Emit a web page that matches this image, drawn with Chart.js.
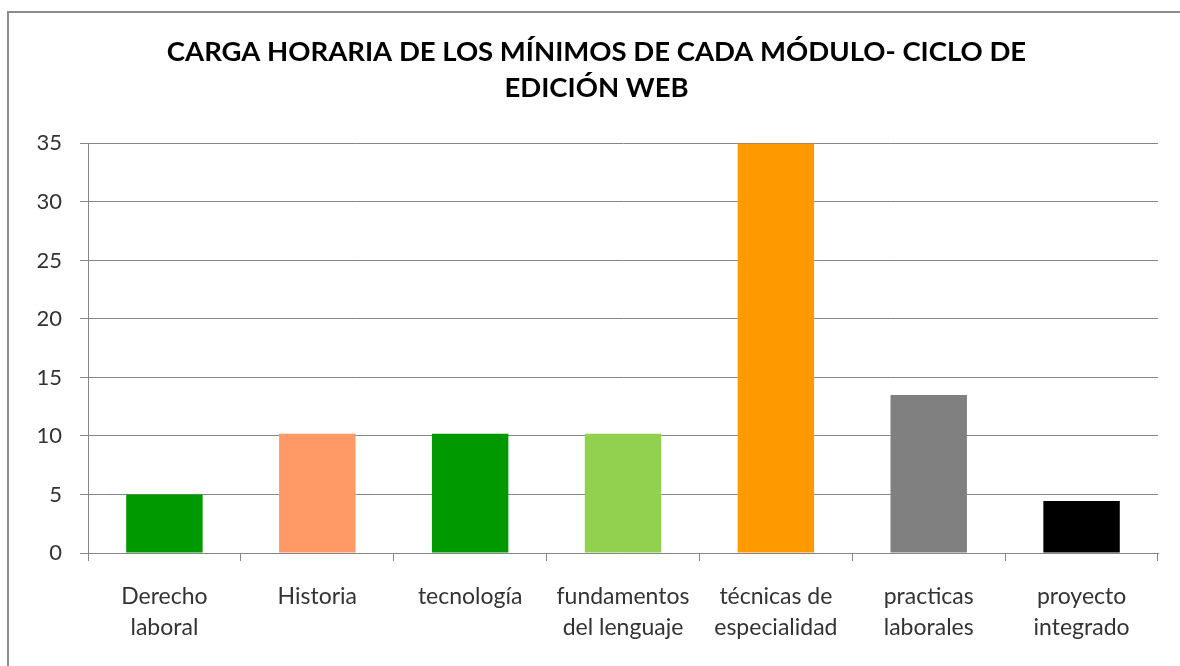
<!DOCTYPE html>
<html>
<head>
<meta charset="utf-8">
<script src="https://cdn.jsdelivr.net/npm/chart.js@4/dist/chart.umd.min.js"></script>
<style>
  html, body { margin: 0; padding: 0; background: #fff; }
  #wrap { width: 1180px; height: 666px; }
</style>
</head>
<body>
<div id="wrap"><canvas id="cargaChart"></canvas></div>
<script>
// Chart data
const modulos = [
  ['Derecho', 'laboral'],
  'Historia',
  'tecnología',
  ['fundamentos', 'del lenguaje'],
  ['técnicas de', 'especialidad'],
  ['practicas', 'laborales'],
  ['proyecto', 'integrado']
];
const horas = [5, 10.2, 10.2, 10.2, 35, 13.5, 4.45];
const colores = ['#009900', '#FF9966', '#009900', '#92D050', '#FF9900', '#808080', '#000000'];
const tituloLineas = ['CARGA HORARIA DE LOS MÍNIMOS DE CADA MÓDULO- CICLO DE', 'EDICIÓN WEB'];

const FONT = 'Lato, "Open Sans", sans-serif';

// Frame drawn round the whole chart, like the spreadsheet chart border
const framePlugin = {
  id: 'frame',
  beforeDraw(chart) {
    const c = chart.ctx;
    c.save();
    c.fillStyle = '#fff';
    c.fillRect(0, 0, chart.width, chart.height);
    c.strokeStyle = '#8c8c8c';
    c.lineWidth = 2;
    c.strokeRect(8, 12, chart.width + 10, chart.height + 10);
    c.restore();
  }
};

const ctx = document.getElementById('cargaChart');
new Chart(ctx, {
  type: 'bar',
  data: {
    labels: modulos,
    datasets: [{
      data: horas,
      backgroundColor: colores,
      borderWidth: 0,
      barPercentage: 0.5,
      categoryPercentage: 1
    }]
  },
  options: {
    responsive: true,
    maintainAspectRatio: false,
    animation: false,
    // left padding keeps the title centred on the frame, not the plot
    layout: { padding: { left: 35, right: 22, top: 0, bottom: 0 } },
    plugins: {
      legend: { display: false },
      tooltip: { enabled: false },
      title: {
        display: true,
        text: tituloLineas,
        color: '#000',
        font: { family: FONT, size: 27.5, weight: 'bold', lineHeight: 1.28 },
        padding: { top: 35, bottom: 38 }
      }
    },
    scales: {
      x: {
        afterFit(scale) { scale.height = 113; },
        grid: {
          offset: true,
          drawOnChartArea: false,
          drawTicks: true,
          tickLength: 8,
          color: '#868686'
        },
        border: { color: '#868686', width: 1 },
        ticks: {
          color: '#333',
          padding: 20,
          maxRotation: 0,
          autoSkip: false,
          font: { family: FONT, size: 23, lineHeight: 1.35 }
        }
      },
      y: {
        min: 0,
        max: 35,
        afterFit(scale) { scale.width = 53; },
        grid: {
          color: '#868686',
          drawTicks: true,
          tickLength: 8
        },
        border: { color: '#868686', width: 1 },
        ticks: {
          stepSize: 5,
          color: '#333',
          padding: 18,
          font: { family: FONT, size: 22 }
        }
      }
    }
  },
  plugins: [framePlugin]
});
</script>
</body>
</html>
